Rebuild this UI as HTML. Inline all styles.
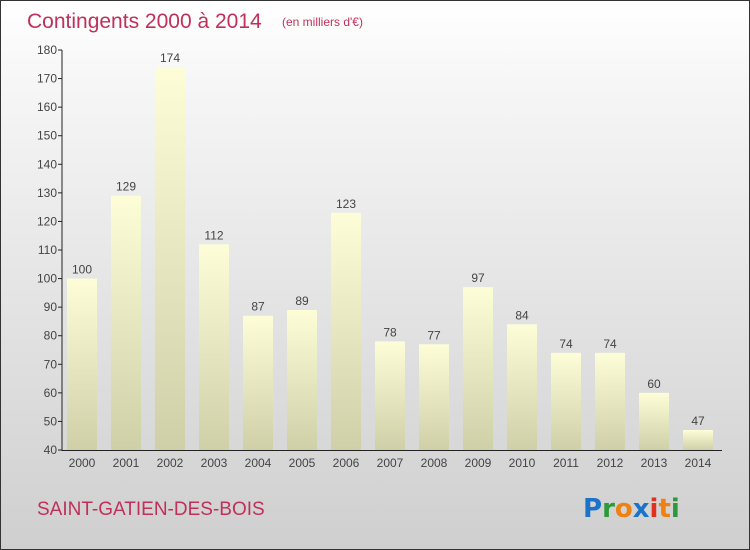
<!DOCTYPE html>
<html><head><meta charset="utf-8"><style>
body{margin:0}
#c{width:748px;height:548px;border:1px solid #333;position:relative;background:linear-gradient(#ffffff,#f6f6f6 15%,#cfcfcf);font-family:"Liberation Sans",sans-serif;overflow:hidden}
</style></head><body>
<div id="c">
<svg id="s" width="748" height="548" style="position:absolute;left:0;top:0">
<defs><linearGradient id="g" x1="0" y1="0" x2="0" y2="1"><stop offset="0" stop-color="#fdfdd8"/><stop offset="1" stop-color="#cfcfa8"/></linearGradient></defs>
<text x="26" y="27" font-size="21" fill="#c0305a">Contingents 2000 à 2014</text>
<text x="281" y="25" font-size="12" fill="#c0305a">(en milliers d'€)</text>
<text x="36" y="514" font-size="19" fill="#c0305a">SAINT-GATIEN-DES-BOIS</text>
<g font-size="26" font-weight="bold" font-family="'DejaVu Sans',sans-serif">
<text x="582" y="516"><tspan fill="#1a73c8">P</tspan><tspan fill="#2a9a3a">r</tspan><tspan fill="#f08010">o</tspan><tspan fill="#1a73c8">x</tspan><tspan fill="#e03020">i</tspan><tspan fill="#f08010">t</tspan><tspan fill="#2a9a3a">i</tspan></text></g>
</svg>
</div>
<script>
const years=["2000","2001","2002","2003","2004","2005","2006","2007","2008","2009","2010","2011","2012","2013","2014"];
const values=[100,129,174,112,87,89,123,78,77,97,84,74,74,60,47];
const ticks=[40,50,60,70,80,90,100,110,120,130,140,150,160,170,180];
const s=document.getElementById('s');const NS='http://www.w3.org/2000/svg';
const y=v=>449-(v-40)*400/140;const x=i=>81+i*44;
function mk(t,a,txt){const e=document.createElementNS(NS,t);for(const k in a)e.setAttribute(k,a[k]);if(txt!=null)e.textContent=txt;s.appendChild(e);return e;}
ticks.forEach(t=>{
const l=mk('line',{x1:57,x2:61,y1:y(t),y2:y(t),stroke:'#222'});


const tx=mk('text',{x:56,y:y(t)+4,'text-anchor':'end','font-size':12,fill:'#444'},t);


});
values.forEach((v,i)=>{
const r=mk('rect',{x:x(i)-15,y:y(v),width:30,height:449-y(v),fill:'url(#g)'});


const lb=mk('text',{x:x(i),y:y(v)-5,'text-anchor':'middle','font-size':12,fill:'#444'},v);


const yl=mk('text',{x:x(i),y:466,'text-anchor':'middle','font-size':12,fill:'#444'},years[i]);


});
const ya=mk('line',{x1:61,x2:61,y1:49,y2:450,stroke:'#222'});


const xa=mk('line',{x1:61,x2:721,y1:449.5,y2:449.5,stroke:'#222'});


</script>
</body></html>
